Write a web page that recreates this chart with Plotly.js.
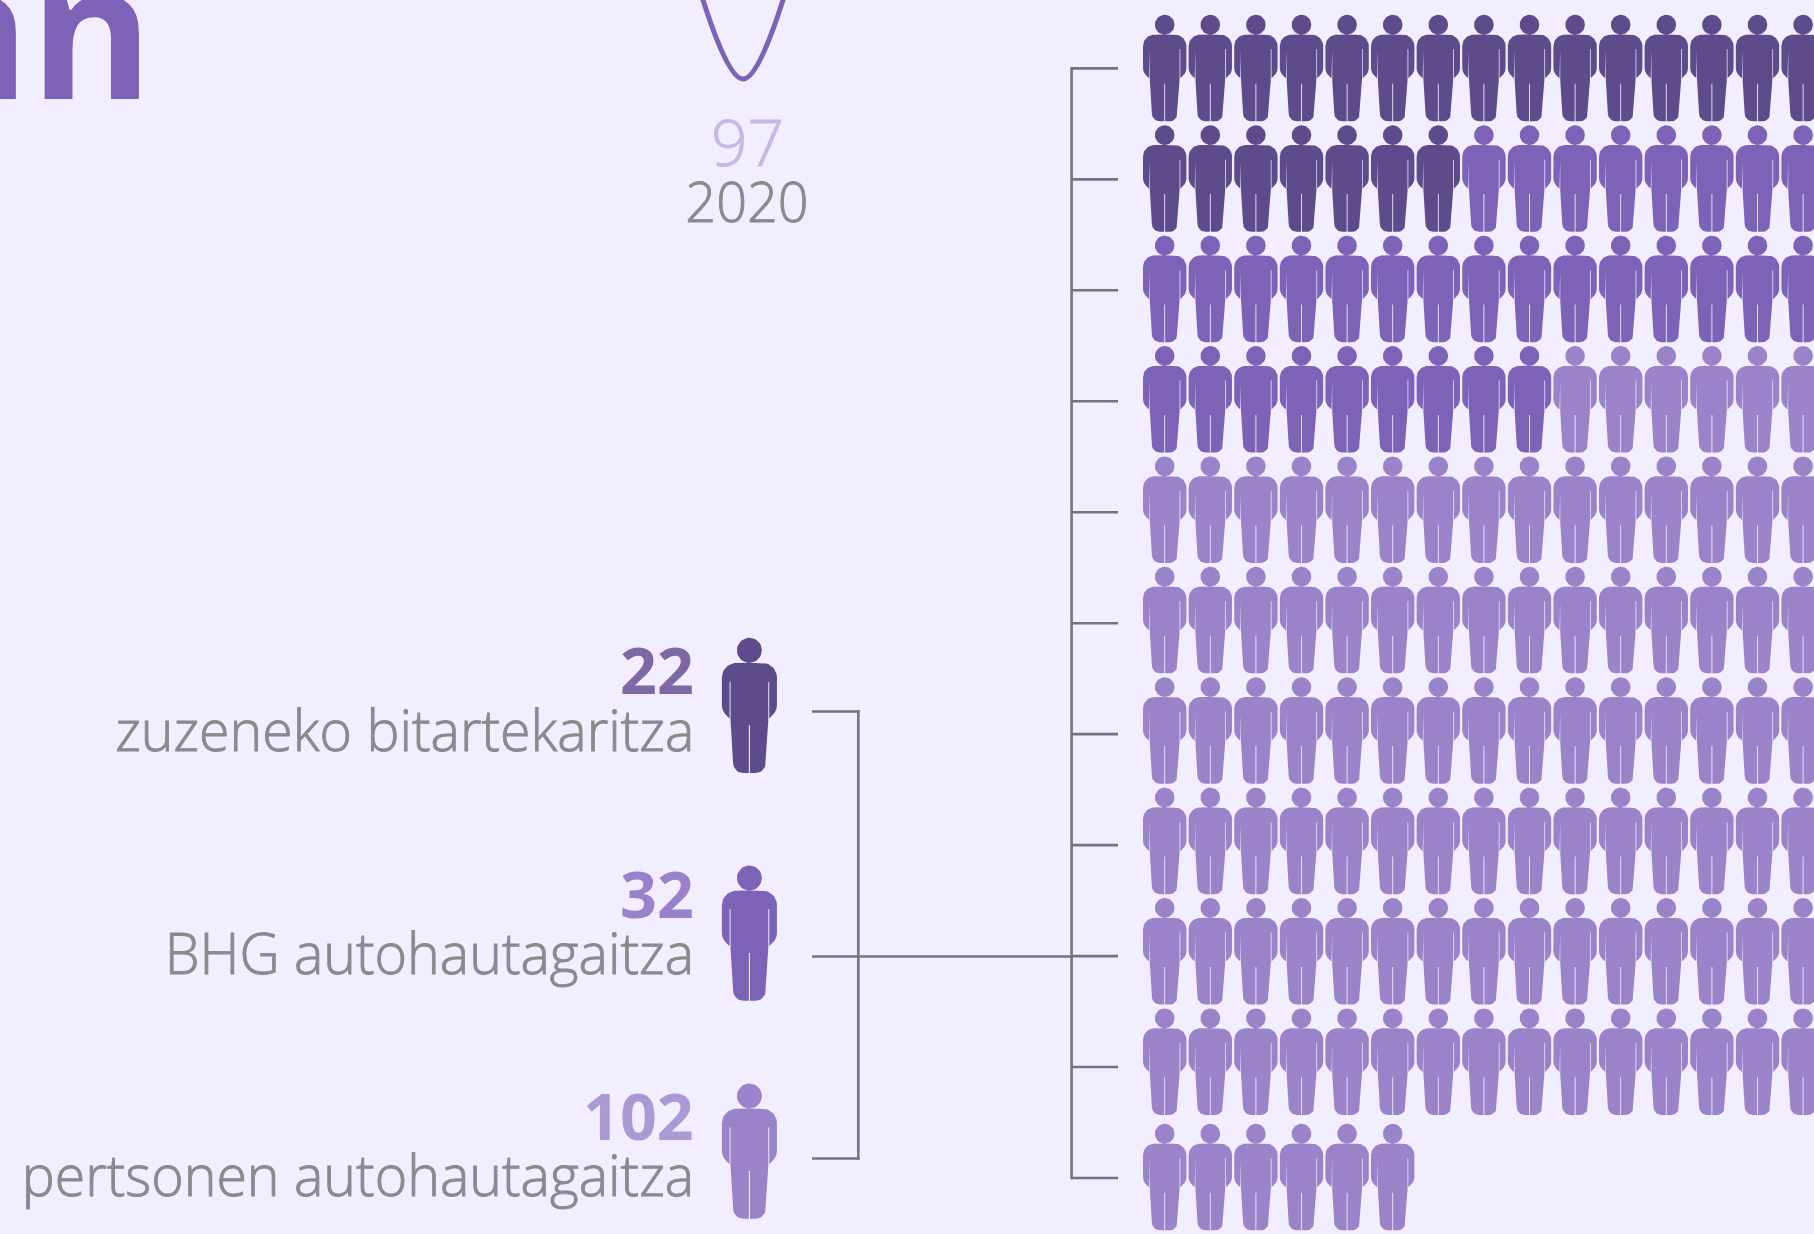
<!DOCTYPE html>
<html>
<head>
<meta charset="utf-8">
<script src="https://cdn.plot.ly/plotly-3.0.1.min.js"></script>
<style>html,body{margin:0;padding:0;background:#f2eeff;overflow:hidden}</style>
</head>
<body>
<div id="chart" style="width:1814px;height:1234px"></div>
<script>
// ---- data ----
const categories = ["zuzeneko bitartekaritza", "BHG autohautagaitza", "pertsonen autohautagaitza"];
const counts = [22, 32, 102];
const trendYears = [2019, 2020, 2021];
const trendValues = [156, 97, 156];
const highlightYear = "2020";
const highlightValue = "97";
const titleFragment = "nn";

// ---- styling ----
const BG = "#f2eeff";
const personColors = ["#5e4b8b", "#7d63b8", "#9a83c9"];
const numberColors = ["#7e68a3", "#9a81cc", "#ad98d6"];
const GREY = "#8a8a8d", LINE = "#757478", LIGHTNUM = "#c7b9e5";
const FONT = "Open Sans";

// ---- layout constants ----
const perRow = 15, colStep = 45.6, rowStep = 110.4, gridX = 1164.7, gridY = 24.7, lastRowY = 1133.7;
const legendX = 749.4, legendHeadY = [650.3, 878, 1096], legendScale = 1.27;
const legendNumBase = [694.5, 918, 1140], legendLabelBase = [751, 974, 1196], textRight = 693.5;

// ---- pictogram outline, in px relative to the head centre ----
function arc(cx, cy, r, a0, a1, n) {
  const p = [];
  for (let i = 0; i <= n; i++) {
    const a = (a0 + (a1 - a0) * i / n) * Math.PI / 180;
    p.push([cx + r * Math.cos(a), cy + r * Math.sin(a)]);
  }
  return p;
}
function personOutline() {
  const k = 1 / 3;
  const right = [].concat(
    [[0, 29.5]],
    arc(31, 64, 34, -90, 0, 12),
    [[65, 130], [64, 138], [60, 147], [54, 154], [46.8, 161], [46.8, 74], [44.6, 74], [44.6, 166], [38.5, 266]],
    arc(14.5, 266, 24, 0, 90, 10),
    [[1.3, 290], [1.3, 177]]
  );
  const left = right.slice().reverse().map(p => [-p[0], p[1]]);
  const body = right.concat(left).map(p => [p[0] * k, p[1] * k]);
  const head = arc(0, 0, 29.5, 0, 360, 32).map(p => [p[0] * k, p[1] * k]);
  return { body, head };
}
const glyph = personOutline();
function addPerson(xs, ys, cx, cy, s) {
  [glyph.body, glyph.head].forEach(poly => {
    poly.forEach(p => { xs.push(cx + p[0] * s); ys.push(cy + p[1] * s); });
    xs.push(null); ys.push(null);
  });
}

const traces = [];
// waffle: one pictogram per person, filled row by row from the counts
const total = counts.reduce((a, b) => a + b, 0);
const totalRows = Math.ceil(total / perRow);
let index = 0;
counts.forEach((count, c) => {
  const xs = [], ys = [];
  for (let i = 0; i < count; i++, index++) {
    const col = index % perRow, row = Math.floor(index / perRow);
    const yy = row === totalRows - 1 ? lastRowY : gridY + row * rowStep;
    addPerson(xs, ys, gridX + col * colStep, yy, 1);
  }
  addPerson(xs, ys, legendX, legendHeadY[c], legendScale);
  traces.push({ x: xs, y: ys, mode: "lines", fill: "toself", fillcolor: personColors[c],
    line: { width: 0, color: personColors[c] }, hoverinfo: "skip", name: categories[c], showlegend: false });
});

// brackets
const bx = [], by = [];
const tickY = r => 68.4 + r * 110.96;
function seg(x0, y0, x1, y1) { bx.push(x0, x1, null); by.push(y0, y1, null); }
seg(1071.6, tickY(0) - 1.3, 1071.6, tickY(totalRows - 1) + 1.3);
for (let r = 0; r < totalRows; r++) seg(1071.6, tickY(r), 1118, tickY(r));
seg(812, 711.5, 859.6, 711.5); seg(858.3, 710.2, 858.3, 1159.8); seg(812, 1158.5, 859.6, 1158.5);
seg(812, 956.5, 1071.6, 956.5);
traces.push({ x: bx, y: by, mode: "lines", line: { color: LINE, width: 2.6 }, hoverinfo: "skip", showlegend: false });

// trend line on its own year / value axes
traces.push({ x: trendYears, y: trendValues, xaxis: "x2", yaxis: "y2", mode: "lines",
  line: { color: "#7d63b8", width: 5, shape: "spline", smoothing: 1 }, hoverinfo: "skip", showlegend: false });

function label(text, xPos, baseline, size, color, weight, xanchor) {
  return { text, x: xPos, y: baseline + 0.293 * size, xref: "x", yref: "y", xanchor: xanchor || "right", yanchor: "bottom",
    showarrow: false, borderpad: 0, borderwidth: 0,
    font: { family: FONT, size, color, weight: weight || 400 } };
}
const annotations = [];
categories.forEach((cat, i) => {
  annotations.push(label(String(counts[i]), textRight, legendNumBase[i], 64.5, numberColors[i], 700));
  annotations.push(label(cat, textRight, legendLabelBase[i], 57, GREY, 300));
});
annotations.push(label(highlightValue, 747, 166, 64, LIGHTNUM, 300, "center"));
annotations.push(label(highlightYear, 747, 222, 56, GREY, 300, "center"));
annotations.push(label(titleFragment, 153, 98.8, 187, "#7d63b8", 700));

const hidden = { visible: false, fixedrange: true };
const yearPx = 63, year0 = 2020, x0px = 743, valPx = 2.7, val0 = 97, y0px = 79;
const layout = {
  width: 1814, height: 1234, margin: { l: 0, r: 0, t: 0, b: 0 },
  paper_bgcolor: BG, plot_bgcolor: BG, showlegend: false,
  xaxis: Object.assign({ range: [0, 1814] }, hidden),
  yaxis: Object.assign({ range: [1234, 0] }, hidden),
  xaxis2: Object.assign({ overlaying: "x", range: [year0 - x0px / yearPx, year0 + (1814 - x0px) / yearPx] }, hidden),
  yaxis2: Object.assign({ overlaying: "y", range: [val0 - (1234 - y0px) / valPx, val0 + y0px / valPx] }, hidden),
  annotations
};
// the reference's text is set slightly narrower and a touch heavier than the installed light face
Plotly.newPlot("chart", traces, layout, { displayModeBar: false, staticPlot: true }).then(gd => {
  gd.querySelectorAll("text.annotation-text").forEach(t => {
    const s = t.textContent;
    const isLabel = categories.includes(s);
    const isYear = s === highlightYear;
    const isValue = s === highlightValue;
    if (!isLabel && !isYear && !isValue) return;
    t.style.stroke = isValue ? LIGHTNUM : GREY;
    t.style.strokeWidth = "0.9px";
    if (isValue) return;
    const b = t.getBBox();
    const ax = isLabel ? b.x + b.width : b.x + b.width / 2;
    const squeeze = isLabel ? 0.973 : 0.963;
    t.setAttribute("transform", `translate(${ax} 0) scale(${squeeze} 1) translate(${-ax} 0)`);
  });
});
</script>
</body>
</html>
